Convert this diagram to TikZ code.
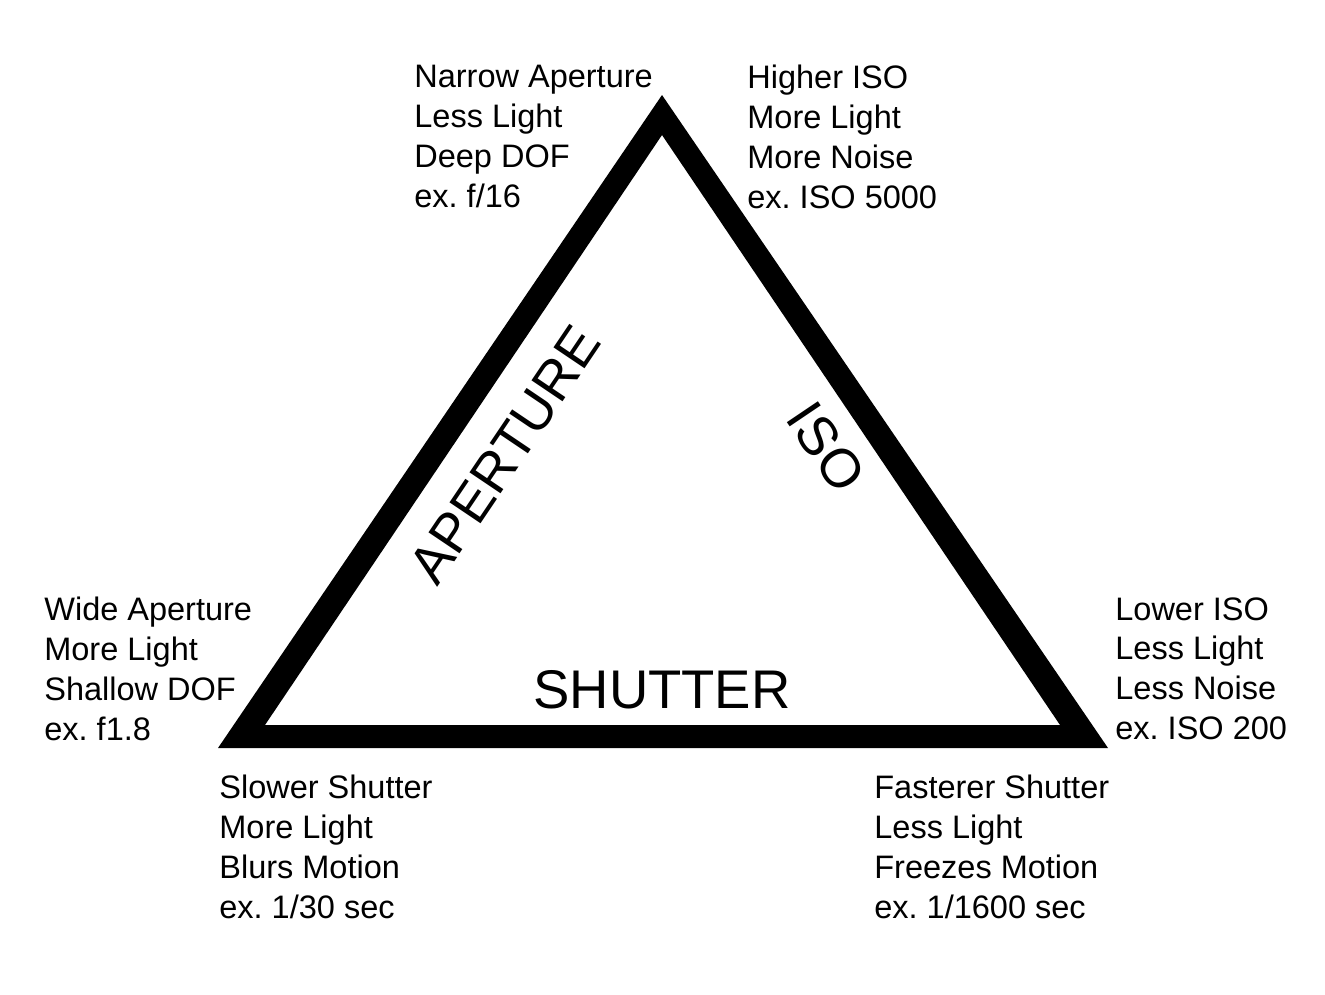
\documentclass[tikz,border=0pt]{standalone}
\usepackage{fontspec}
\setmainfont{Liberation Sans}
\frenchspacing
\begin{document}
\begin{tikzpicture}[x=0.02cm, y=-0.02cm,
    info/.style={anchor=north west, align=left, inner sep=0pt,
      font=\fontsize{18.5}{22.7}\selectfont},
    side/.style={font=\fontsize{31}{36}\selectfont, inner sep=0pt}]
    \useasboundingbox (0,0) rectangle (1325,994);

    % Dreieck
    \fill[black, even odd rule] (662,95) -- (1108,748) -- (218,748) -- cycle
                                (662,135) -- (1060,725) -- (265,725) -- cycle;

    % Seiten
    \node[side] (shutter) at (662,690) {SHUTTER};
    \node[side, rotate=56] (aperture) at (505,455) {APERTURE};
    \node[side, rotate=-56] (iso) at (826,447) {ISO};

    % Ecken
    \node[info] (narrow) at (414,65) {Narrow Aperture\\Less Light\\Deep DOF\\ex. f/16};
    \node[info] (higher) at (747,65) {Higher ISO\\More Light\\More Noise\\ex. ISO 5000};
    \node[info] (wide) at (44,597) {Wide Aperture\\More Light\\Shallow DOF\\ex. f1.8};
    \node[info] (lower) at (1115,597) {Lower ISO\\Less Light\\Less Noise\\ex. ISO 200};
    \node[info] (slower) at (219,775) {Slower Shutter\\More Light\\Blurs Motion\\ex. 1/30 sec};
    \node[info] (faster) at (874,775) {Fasterer Shutter\\Less Light\\Freezes Motion\\ex. 1/1600 sec};
\end{tikzpicture}
\end{document}
